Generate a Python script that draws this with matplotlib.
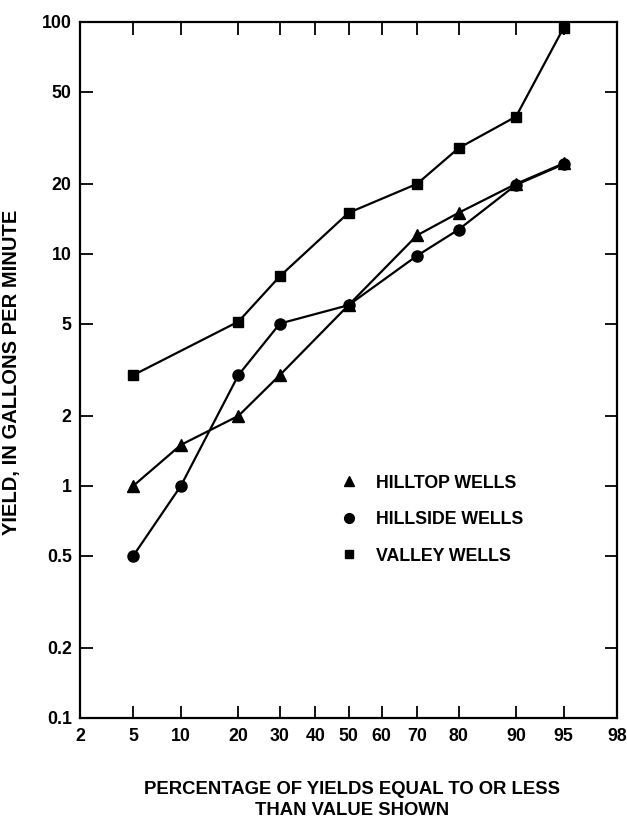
#!/usr/bin/env python3
# -*- coding: utf-8 -*-

"""
Well yield duration curves: hilltop, hillside and valley wells.
Probability (normal) x-axis, log y-axis.
"""

from statistics import NormalDist

import numpy as np
import matplotlib
matplotlib.use("Agg")
import matplotlib.pyplot as plt
from matplotlib.lines import Line2D
from matplotlib.ticker import FixedLocator, NullLocator

# Data
hilltop_pct = [5, 10, 20, 30, 50, 70, 80, 90, 95]
hilltop_gpm = [1.0, 1.5, 2.0, 3.0, 6.0, 12.0, 15.0, 20.0, 24.5]

hillside_pct = [5, 10, 20, 30, 50, 70, 80, 90, 95]
hillside_gpm = [0.5, 1.0, 3.0, 5.0, 6.0, 9.8, 12.7, 19.8, 24.3]

valley_pct = [5, 20, 30, 50, 70, 80, 90, 95]
valley_gpm = [3.0, 5.1, 8.0, 15.0, 20.0, 28.5, 39.0, 94.0]

x_ticks = [2, 5, 10, 20, 30, 40, 50, 60, 70, 80, 90, 95, 98]
y_ticks = [0.1, 0.2, 0.5, 1, 2, 5, 10, 20, 50, 100]
y_tick_labels = ["0.1", "0.2", "0.5", "1", "2", "5", "10", "20", "50", "100"]

legend_labels = ["HILLTOP WELLS", "HILLSIDE WELLS", "VALLEY WELLS"]

# Normal probability scale
_nd = NormalDist()
_ppf = np.vectorize(lambda v: _nd.inv_cdf(v / 100.0), otypes=[float])
_cdf = np.vectorize(lambda v: _nd.cdf(v) * 100.0, otypes=[float])


def prob_forward(p):
    p = np.clip(np.asarray(p, dtype=float), 1e-6, 100 - 1e-6)
    return _ppf(p)


def prob_inverse(z):
    return _cdf(np.asarray(z, dtype=float))


plt.rcParams['font.family'] = ['Liberation Sans', 'DejaVu Sans']
plt.rcParams['font.weight'] = 'bold'

W, H = 627, 821
fig = plt.figure(figsize=(W / 100, H / 100), dpi=100)
fig.patch.set_facecolor('white')

# axes box in pixels: left 80, right 617, top 21.7, bottom 717.7
ax = fig.add_axes([80 / W, (H - 717.7) / H, 537 / W, 696 / H])

ax.set_xscale('function', functions=(prob_forward, prob_inverse))
ax.set_yscale('log')
ax.set_xlim(2, 98)
ax.set_ylim(0.1, 100)

line_kw = dict(color='black', linewidth=1.6)
ax.plot(valley_pct, valley_gpm, marker='s', markersize=7, zorder=3, **line_kw)
ax.plot(hillside_pct, hillside_gpm, marker='o', markersize=8, zorder=4, **line_kw)
ax.plot(hilltop_pct, hilltop_gpm, marker='^', markersize=8.5, zorder=5, **line_kw)

ax.xaxis.set_major_locator(FixedLocator(x_ticks))
ax.set_xticklabels([str(t) for t in x_ticks])
ax.yaxis.set_major_locator(FixedLocator(y_ticks))
ax.set_yticklabels(y_tick_labels)
ax.xaxis.set_minor_locator(NullLocator())
ax.yaxis.set_minor_locator(NullLocator())

ax.tick_params(axis='both', which='major', direction='in', length=9, width=1.3,
               top=True, right=True, labelsize=12.8, colors='black')
ax.tick_params(axis='x', pad=7.5)
ax.tick_params(axis='y', pad=6)
for lbl in ax.get_xticklabels() + ax.get_yticklabels():
    lbl.set_fontweight('bold')

for spine in ax.spines.values():
    spine.set_linewidth(1.6)
    spine.set_color('black')

# Legend (markers only, no frame)
handles = [
    Line2D([], [], marker='^', color='black', linestyle='none', markersize=7),
    Line2D([], [], marker='o', color='black', linestyle='none', markersize=7),
    Line2D([], [], marker='s', color='black', linestyle='none', markersize=6),
]
ax.legend(handles, legend_labels, loc='upper left',
          bbox_to_anchor=((340.3 - 80) / 537, (717.7 - 474.5) / 696),
          frameon=False, borderpad=0, borderaxespad=0,
          handlelength=1.0, handletextpad=1.0, labelspacing=1.1,
          prop={'size': 12.8, 'weight': 'bold'})

# Axis titles
fig.text(12 / W, (H - 372.5) / H, "YIELD, IN GALLONS PER MINUTE",
         rotation=90, ha='center', va='center', fontsize=14.5, fontweight='bold')
fig.text(352 / W, (H - 781) / H,
         "PERCENTAGE OF YIELDS EQUAL TO OR LESS\nTHAN VALUE SHOWN",
         ha='center', va='top', multialignment='center', linespacing=1.3,
         fontsize=13.3, fontweight='bold')

fig.savefig("out.png", dpi=100, facecolor='white')
